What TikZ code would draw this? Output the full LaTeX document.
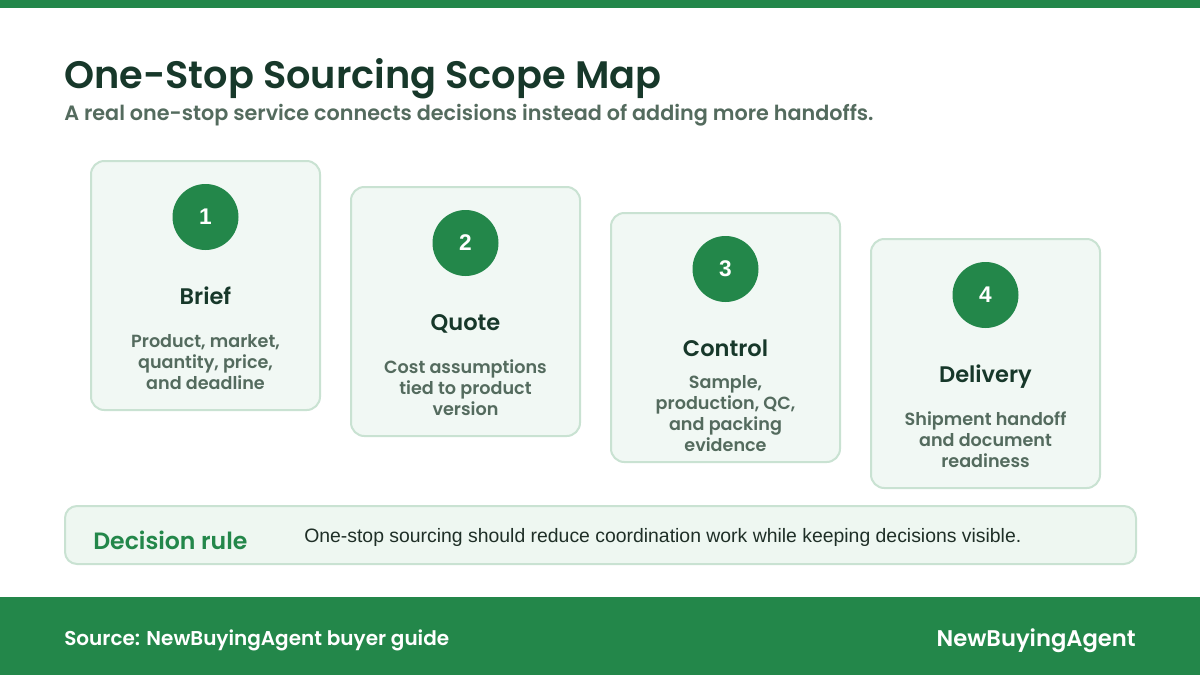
\documentclass[tikz,border=0pt]{standalone}
\usepackage{fontspec}
\setmainfont{Liberation Sans}
\newfontfamily\pop{Poppins SemiBold}
\definecolor{brand}{HTML}{23874A}
\definecolor{ink}{HTML}{17382A}
\definecolor{muted}{HTML}{546B5E}
\definecolor{cardfill}{HTML}{F1F8F4}
\definecolor{cardline}{HTML}{C9E2D2}
\definecolor{rulefill}{HTML}{EEF7F1}
\definecolor{bodyink}{HTML}{1F2F27}
\tikzset{
  card/.style={draw=cardline, line width=1.5pt, fill=cardfill, rounded corners=10pt},
  badge/.style={circle, fill=brand, minimum size=49.5pt, inner sep=0pt, text=white, font=\fontsize{17}{19}\bfseries},
  cardtitle/.style={anchor=base, inner sep=0pt, text=ink, font=\pop\fontsize{16.9}{20}\selectfont},
  carddesc/.style={inner sep=0pt, text=muted, align=center, font=\pop\fontsize{13.2}{15.75}\selectfont},
}
\begin{document}
\begin{tikzpicture}[x=0.75pt,y=-0.75pt]
\useasboundingbox (0,0) rectangle (1200,675);
\fill[white] (0,0) rectangle (1200,675);
\fill[brand] (0,0) rectangle (1200,8);
\node[anchor=base west, inner sep=0pt, text=ink, font=\pop\fontsize{28.7}{34}\selectfont] (title) at (64,88) {One-Stop Sourcing Scope Map};
\node[anchor=base west, inner sep=0pt, text=muted, font=\pop\fontsize{15.55}{18}\selectfont] (subtitle) at (64,120) {A real one-stop service connects decisions instead of adding more handoffs.};
% cards
\foreach \k/\num/\ttl/\desc in {0/1/Brief/{Product, market,\\quantity, price,\\and deadline},
  1/2/Quote/{Cost assumptions\\tied to product\\version},
  2/3/Control/{Sample,\\production, QC,\\and packing\\evidence},
  3/4/Delivery/{Shipment handoff\\and document\\readiness}}{
  \pgfmathsetmacro{\xo}{91+260*\k}
  \pgfmathsetmacro{\yo}{161+26*\k}
  \draw[card] (\xo,\yo) rectangle ++(229,249);
  \node[badge] (b\num) at (\xo+114.5,\yo+56) {\num};
  \node[cardtitle] (t\num) at (\xo+114.5,\yo+143) {\ttl};
  \node[carddesc] (d\num) at (\xo+114.5,\yo+201) {\desc};
}
% decision rule
\draw[draw=cardline, line width=1.5pt, fill=rulefill, rounded corners=9pt] (65,506) rectangle (1136,564);
\node[anchor=base west, inner sep=0pt, text=brand, font=\pop\fontsize{17.7}{20}\selectfont] (rule) at (93,549) {Decision rule};
\node[anchor=base west, inner sep=0pt, text=bodyink, font=\fontsize{14.55}{17}\selectfont] (ruletext) at (304,542.5) {One-stop sourcing should reduce coordination work while keeping decisions visible.};
% footer
\fill[brand] (0,597) rectangle (1200,675);
\node[anchor=base west, inner sep=0pt, text=white, font=\pop\fontsize{15}{17}\selectfont] (src) at (64,645) {Source: NewBuyingAgent buyer guide};
\node[anchor=base east, inner sep=0pt, text=white, font=\pop\fontsize{17}{20}\selectfont] (brandname) at (1136,646) {NewBuyingAgent};
\end{tikzpicture}
\end{document}
